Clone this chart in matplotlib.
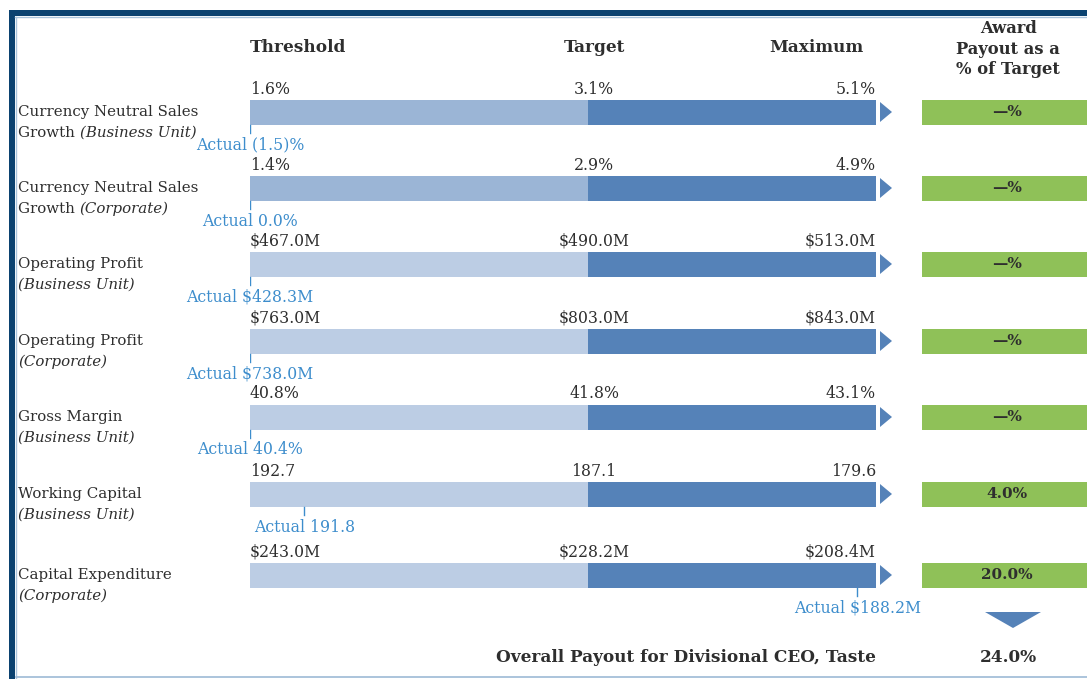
import matplotlib
matplotlib.use("Agg")
import matplotlib.pyplot as plt
from matplotlib.patches import Polygon, Rectangle
import numpy as np

# ---------------- data ----------------
row_line1 = ["Currency Neutral Sales", "Currency Neutral Sales", "Operating Profit",
             "Operating Profit", "Gross Margin", "Working Capital", "Capital Expenditure"]
row_line2_plain = ["Growth ", "Growth ", "", "", "", "", ""]
row_line2_ital = ["(Business Unit)", "(Corporate)", "(Business Unit)", "(Corporate)",
                  "(Business Unit)", "(Business Unit)", "(Corporate)"]
threshold_vals = [1.6, 1.4, 467.0, 763.0, 40.8, 192.7, 243.0]
target_vals = [3.1, 2.9, 490.0, 803.0, 41.8, 187.1, 228.2]
maximum_vals = [5.1, 4.9, 513.0, 843.0, 43.1, 179.6, 208.4]
actual_vals = [-1.5, 0.0, 428.3, 738.0, 40.4, 191.8, 188.2]
threshold_lbl = ["1.6%", "1.4%", "$467.0M", "$763.0M", "40.8%", "192.7", "$243.0M"]
target_lbl = ["3.1%", "2.9%", "$490.0M", "$803.0M", "41.8%", "187.1", "$228.2M"]
maximum_lbl = ["5.1%", "4.9%", "$513.0M", "$843.0M", "43.1%", "179.6", "$208.4M"]
actual_lbl = ["Actual (1.5)%", "Actual 0.0%", "Actual $428.3M", "Actual $738.0M",
              "Actual 40.4%", "Actual 191.8", "Actual $188.2M"]
payout_lbl = ["\u2014%", "\u2014%", "\u2014%", "\u2014%", "\u2014%", "4.0%", "20.0%"]
overall_label = "Overall Payout for Divisional CEO, Taste"
overall_value = "24.0%"
headers = ["Threshold", "Target", "Maximum"]
award_header = "Award\nPayout as a\n% of Target"

# ---------------- layout / style ----------------
W, H = 1087, 679
row_y = [112, 188, 264, 341, 417, 494, 575]
bar_h = 25
bar_left_px, bar_target_px, bar_right_px = 250, 588, 876
SEG1 = bar_target_px - bar_left_px       # threshold -> target width (px)
SEG2 = bar_right_px - bar_target_px      # target -> maximum width (px)
FONT = "DejaVu Serif"
FS_ROW = 10.8
FS_VAL = 11.3
FS_BOLD = 12.2
FS_PAY = 11.0
TXT = "#2e2e2e"
ACT = "#3d8dcc"
DARK = "#5582b8"
LIGHT_A = "#9bb5d6"
LIGHT_B = "#bccde4"
GREEN = "#8fc158"
NAVY = "#0b4270"

plt.rcParams["font.family"] = [FONT, "DejaVu Sans"]

fig = plt.figure(figsize=(W / 100, H / 100), dpi=100)
bg = fig.add_axes([0, 0, 1, 1])
bg.set_xlim(0, W)
bg.set_ylim(H, 0)
bg.axis("off")

# bar axes: x measured on the bar scale (0 = threshold, SEG1 = target, SEG1+SEG2 = maximum)
bx = fig.add_axes([bar_left_px / W, 0, (bar_right_px - bar_left_px) / W, 1])
bx.set_xlim(0, SEG1 + SEG2)
bx.set_ylim(H, 0)
bx.axis("off")
bx.patch.set_alpha(0)


def bar_pos(t, g, m, a):
    s = (a - t) / (g - t)
    if s <= 1:
        return float(np.clip(s, 0, 1)) * SEG1
    s2 = (a - g) / (m - g)
    return SEG1 + float(np.clip(s2, 0, 0.935)) * SEG2


# borders
bg.add_patch(Rectangle((9, 10), W - 9, 6, color=NAVY, lw=0))
bg.add_patch(Rectangle((9, 10), 6, H - 10, color=NAVY, lw=0))
bg.plot([15, W], [17, 17], color="#aac4dc", lw=1)
bg.plot([16, 16], [17, H], color="#aac4dc", lw=1)
bg.plot([16, W], [677, 677], color="#9dbad6", lw=1.2)

# headers
bg.text(250, 47, headers[0], ha="left", va="center", fontsize=FS_BOLD, fontweight="bold", color=TXT)
bg.text(594, 47, headers[1], ha="center", va="center", fontsize=FS_BOLD, fontweight="bold", color=TXT)
bg.text(816, 47, headers[2], ha="center", va="center", fontsize=FS_BOLD, fontweight="bold", color=TXT)
bg.text(1008, 49, award_header, ha="center", va="center", fontsize=FS_BOLD - 0.4, fontweight="bold",
        color=TXT, linespacing=1.3)

fig.canvas.draw()
renderer = fig.canvas.get_renderer()

for i, y in enumerate(row_y):
    light = LIGHT_A if i < 2 else LIGHT_B
    bx.barh(y, SEG1, left=0, height=bar_h, color=light, lw=0)
    bx.barh(y, SEG2, left=SEG1, height=bar_h, color=DARK, lw=0)
    # value labels
    bx.text(0, y - 23, threshold_lbl[i], ha="left", va="center", fontsize=FS_VAL, color=TXT)
    bx.text(SEG1 + 6, y - 23, target_lbl[i], ha="center", va="center", fontsize=FS_VAL, color=TXT)
    bx.text(SEG1 + SEG2, y - 23, maximum_lbl[i], ha="right", va="center", fontsize=FS_VAL, color=TXT)
    # actual marker
    s = bar_pos(threshold_vals[i], target_vals[i], maximum_vals[i], actual_vals[i])
    bx.plot([s, s], [y + bar_h / 2, y + bar_h / 2 + 8], color=ACT, lw=1)
    bx.text(s, y + 33, actual_lbl[i], ha="center", va="center", fontsize=FS_VAL, color=ACT)
    # arrow
    bg.add_patch(Polygon([[880, y - 10], [880, y + 10], [892, y]], closed=True, color=DARK, lw=0))
    # payout box
    bg.add_patch(Rectangle((922, y - bar_h / 2), W - 922, bar_h, color=GREEN, lw=0))
    bg.text(1007, y, payout_lbl[i], ha="center", va="center", fontsize=FS_PAY, fontweight="bold",
            color=TXT)
    # row labels
    bg.text(18, y, row_line1[i], ha="left", va="center", fontsize=FS_ROW, color=TXT)
    x2 = 18
    if row_line2_plain[i]:
        t = bg.text(x2, y + 21, row_line2_plain[i], ha="left", va="center", fontsize=FS_ROW, color=TXT)
        bb = t.get_window_extent(renderer=renderer)
        x2 = bb.x1
    bg.text(x2, y + 21, row_line2_ital[i], ha="left", va="center", fontsize=FS_ROW,
            style="italic", color=TXT)

# down arrow and overall
bg.add_patch(Polygon([[985, 612], [1041, 612], [1013, 628]], closed=True, color=DARK, lw=0))
bg.text(876, 657, overall_label, ha="right", va="center", fontsize=FS_BOLD, fontweight="bold", color=TXT)
bg.text(1008, 657, overall_value, ha="center", va="center", fontsize=FS_BOLD, fontweight="bold", color=TXT)

fig.savefig("out.png", dpi=100)
